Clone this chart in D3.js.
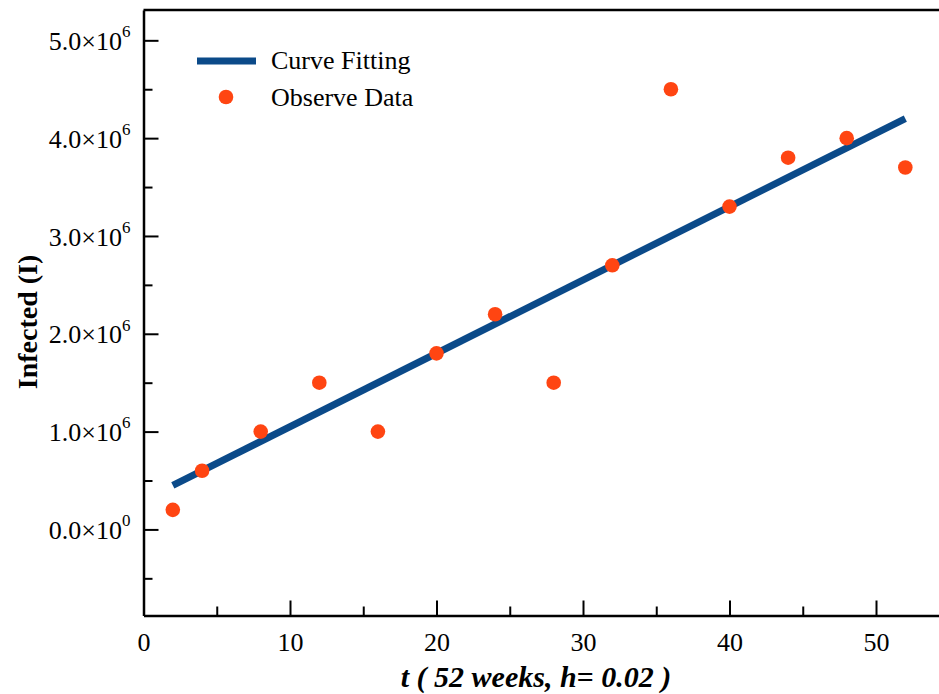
<!DOCTYPE html>
<html>
<head>
<meta charset="utf-8">
<script src="https://cdn.jsdelivr.net/npm/d3@7"></script>
<style>
  body { margin: 0; background: #fff; }
  svg text { font-family: "Liberation Serif", "Times New Roman", serif; }
</style>
</head>
<body>
<div id="chart"></div>
<script>
// observed weekly infected counts
const weeks = [2, 4, 8, 12, 16, 20, 24, 28, 32, 36, 40, 44, 48, 52];
const observed = [0.2e6, 0.6e6, 1.0e6, 1.5e6, 1.0e6, 1.8e6, 2.2e6, 1.5e6, 2.7e6, 4.5e6, 3.3e6, 3.8e6, 4.0e6, 3.7e6];
// fitted curve
const fitWeeks = [2, 52];
const fitted = [0.45e6, 4.2e6];

const yMajor = [0, 1e6, 2e6, 3e6, 4e6, 5e6];
const yMajorMant = ["0.0", "1.0", "2.0", "3.0", "4.0", "5.0"];
const yMajorExp = ["0", "6", "6", "6", "6", "6"];
const yMinor = [-0.5e6, 0.5e6, 1.5e6, 2.5e6, 3.5e6, 4.5e6];
const xMajor = [0, 10, 20, 30, 40, 50];
const xMinor = [5, 15, 25, 35, 45];

const width = 939, height = 694;
const margin = {top: 10, right: 0, bottom: 78.5, left: 143.5};

const svg = d3.select("#chart").append("svg")
  .attr("width", width)
  .attr("height", height);

const x = d3.scaleLinear()
  .domain([0, 54.3])
  .range([margin.left, width - margin.right]);

const y = d3.scaleLinear()
  .domain([-0.88e6, 5.31e6])
  .range([height - margin.bottom, margin.top]);

const lineColor = "#0b4a89";
const dotColor = "#ff4512";

// top frame line
svg.append("line")
  .attr("x1", margin.left).attr("x2", width)
  .attr("y1", margin.top).attr("y2", margin.top)
  .attr("stroke", "#000").attr("stroke-width", 2.5);

// minor ticks
svg.append("g")
  .attr("transform", `translate(${margin.left},0)`)
  .call(d3.axisLeft(y).tickValues(yMinor).tickSize(-9).tickFormat(""))
  .call(g => g.select(".domain").remove())
  .call(g => g.selectAll("line").attr("stroke-width", 2));

svg.append("g")
  .attr("transform", `translate(0,${height - margin.bottom})`)
  .call(d3.axisBottom(x).tickValues(xMinor).tickSize(-9).tickFormat(""))
  .call(g => g.select(".domain").remove())
  .call(g => g.selectAll("line").attr("stroke-width", 2));

// y axis
const yAxis = svg.append("g")
  .attr("transform", `translate(${margin.left},0)`)
  .call(d3.axisLeft(y).tickValues(yMajor).tickSizeInner(-15).tickSizeOuter(0).tickPadding(13))
  .call(g => g.select(".domain").attr("stroke-width", 2.5))
  .call(g => g.selectAll("line").attr("stroke-width", 2));

yAxis.selectAll(".tick text")
  .attr("font-size", 26)
  .attr("fill", "#000")
  .attr("dy", "0.35em")
  .each(function(d, i) {
    const t = d3.select(this).text(null);
    t.append("tspan").text(yMajorMant[i] + "\u00d710");
    t.append("tspan").attr("font-size", 17).attr("dy", "-0.75em").text(yMajorExp[i]);
  });

// x axis
svg.append("g")
  .attr("transform", `translate(0,${height - margin.bottom})`)
  .call(d3.axisBottom(x).tickValues(xMajor).tickSizeInner(-15).tickSizeOuter(0).tickPadding(13).tickFormat(d3.format("d")))
  .call(g => g.select(".domain").attr("stroke-width", 2.5))
  .call(g => g.selectAll("line").attr("stroke-width", 2))
  .call(g => g.selectAll("text").attr("font-size", 26).attr("fill", "#000").attr("dy", "0.85em"));

// axis titles
svg.append("text")
  .attr("transform", `translate(37,322) rotate(-90)`)
  .attr("text-anchor", "middle")
  .attr("font-size", 28)
  .attr("font-weight", "bold")
  .text("Infected (I)");

svg.append("text")
  .attr("x", 536)
  .attr("y", 687)
  .attr("text-anchor", "middle")
  .attr("font-size", 30)
  .attr("font-weight", "bold")
  .attr("font-style", "italic")
  .text("t ( 52 weeks, h= 0.02 )");

// fitted line
svg.append("path")
  .datum(fitWeeks.map((w, i) => [w, fitted[i]]))
  .attr("fill", "none")
  .attr("stroke", lineColor)
  .attr("stroke-width", 7)
  .attr("d", d3.line().x(d => x(d[0])).y(d => y(d[1])));

// observed points
svg.append("g")
  .selectAll("circle")
  .data(weeks.map((w, i) => ({w: w, v: observed[i]})))
  .join("circle")
    .attr("cx", d => x(d.w))
    .attr("cy", d => y(d.v))
    .attr("r", 7.3)
    .attr("fill", dotColor);

// legend
const legend = svg.append("g");
legend.append("line")
  .attr("x1", 197).attr("x2", 256)
  .attr("y1", 61).attr("y2", 61)
  .attr("stroke", lineColor).attr("stroke-width", 7);
legend.append("text")
  .attr("x", 271).attr("y", 69)
  .attr("font-size", 26)
  .text("Curve Fitting");
legend.append("circle")
  .attr("cx", 226).attr("cy", 97)
  .attr("r", 7.3)
  .attr("fill", dotColor);
legend.append("text")
  .attr("x", 271).attr("y", 106)
  .attr("font-size", 26)
  .text("Observe Data");
</script>
</body>
</html>
